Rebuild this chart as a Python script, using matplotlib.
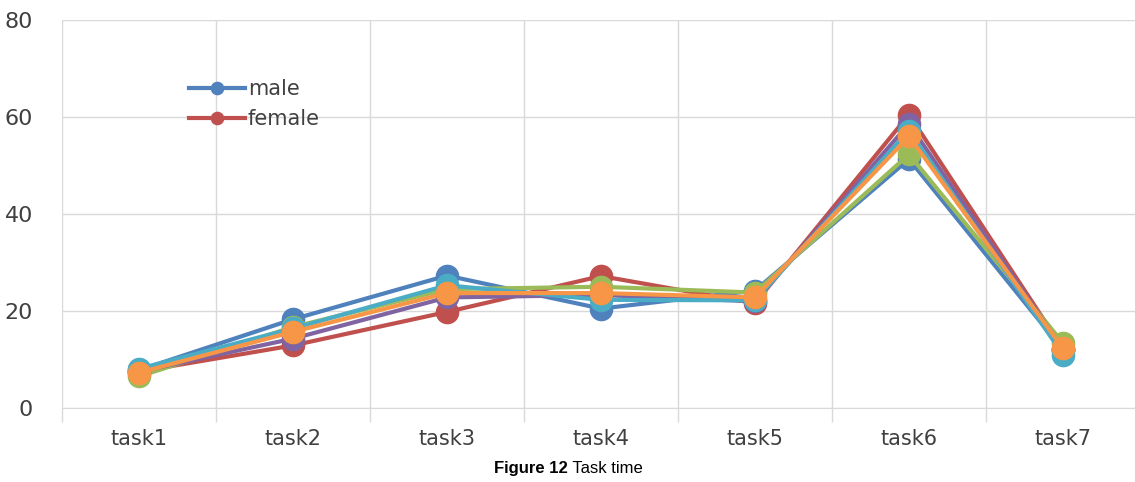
import matplotlib.pyplot as plt
import numpy as np

tasks = ["task1", "task2", "task3", "task4", "task5", "task6", "task7"]
male = [7.8, 18.3, 27.3, 20.5, 24.2, 51.3, 12.0]
female = [7.5, 12.9, 19.8, 27.2, 21.6, 60.5, 12.2]
series3 = [6.5, 16.7, 24.5, 25.0, 23.8, 52.3, 13.4]
series4 = [7.5, 14.3, 22.8, 23.3, 22.0, 58.6, 12.0]
series5 = [8.1, 16.4, 25.3, 22.3, 22.2, 57.2, 11.0]
series6 = [7.3, 15.7, 23.7, 23.7, 22.8, 56.0, 12.3]

colors = ["#4F81BD", "#C0504D", "#9BBB59", "#8064A2", "#4BACC6", "#F79646"]
data = [male, female, series3, series4, series5, series6]
labels = ["male", "female", None, None, None, None]

fig = plt.figure(figsize=(11.35, 4.82), dpi=100)
ax = fig.add_axes([62 / 1135, 74 / 482, 1078 / 1135, 388 / 482])

x = np.arange(len(tasks))
handles = []
for vals, c, lab in zip(data, colors, labels):
    h, = ax.plot(x, vals, color=c, lw=3, marker="o", ms=16, zorder=3)
    if lab:
        handles.append((h, lab))

ax.set_xlim(-0.5, 6.5)
ax.set_ylim(0, 80)
ax.set_yticks([0, 20, 40, 60, 80])
ax.set_xticks(np.arange(-0.5, 7, 1))
ax.set_xticklabels([])
ax.set_xticks(x, minor=True)
ax.set_xticklabels(tasks, minor=True)
ax.tick_params(axis="x", which="major", length=10, color="#D9D9D9", width=1)
ax.tick_params(axis="x", which="minor", length=0, pad=15, labelsize=15, labelcolor="#404040")
ax.tick_params(axis="y", length=0, pad=21, labelsize=16, labelcolor="#404040")
ax.grid(True, which="major", color="#D9D9D9", lw=1, zorder=0)
for s in ["top", "right", "left"]:
    ax.spines[s].set_visible(False)
ax.spines["bottom"].set_color("#D9D9D9")

leg = ax.legend([h for h, _ in handles], [l for _, l in handles],
                loc="upper left", bbox_to_anchor=(0.1, 0.895), frameon=False,
                fontsize=15, labelcolor="#404040", handlelength=2.7,
                handletextpad=0.15, labelspacing=0.45, markerscale=0.55)

title_font = ["Liberation Sans", "DejaVu Sans"]
fig.text(0.5, 0.012, "Figure 12", ha="right", va="bottom",
         fontsize=12, weight="bold", family=title_font)
fig.text(0.5, 0.012, " Task time", ha="left", va="bottom",
         fontsize=12, family=title_font)

fig.savefig("out.png", dpi=100)
